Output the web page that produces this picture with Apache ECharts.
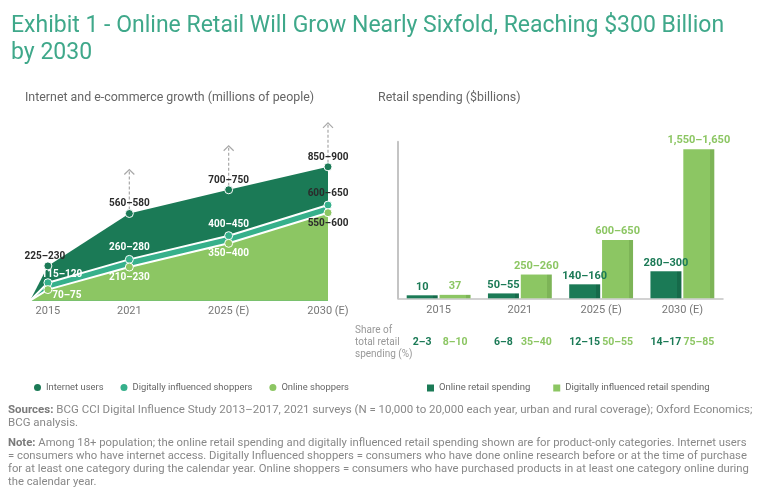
<!DOCTYPE html>
<html>
<head>
<meta charset="utf-8">
<script src="https://cdn.jsdelivr.net/npm/echarts@6/dist/echarts.min.js"></script>
<style>html,body{margin:0;padding:0;background:#fff}#chart{width:768px;height:500px}</style>
</head>
<body>
<div id="chart"></div>
<script>
var years = ['2015', '2021', '2025 (E)', '2030 (E)'];
// left panel: where each year sits on the x axis (gaps are uneven in the original)
var yearPos = [0.18, 1, 2, 3];
var internetUsers = [227.5, 570, 725, 875];
var digitalShoppers = [117.5, 270, 425, 625];
var onlineShoppers = [72.5, 220, 375, 575];
var internetLabels = ['225–230', '560–580', '700–750', '850–900'];
var digitalLabels = ['115–120', '260–280', '400–450', '600–650'];
var onlineLabels = ['70–75', '210–230', '350–400', '550–600'];
var arrowYears = [1, 2, 3];

var onlineSpend = [10, 52.5, 150, 290];
var digitalSpend = [37, 255, 625, 1600];
var onlineSpendLabels = ['10', '50–55', '140–160', '280–300'];
var digitalSpendLabels = ['37', '250–260', '600–650', '1,550–1,650'];
var onlineShare = ['2–3', '6–8', '12–15', '14–17'];
var digitalShare = ['8–10', '35–40', '50–55', '75–85'];

var DARK = '#1b7a56', DARK2 = '#166a4a', TEAL = '#36b08b', LIGHT = '#8cc663', LIGHT2 = '#7db457';
var FONT = 'Roboto';
var TEXT = '#2b2b2b', GREY = '#777';

var myChart = echarts.init(document.getElementById('chart'));

function stripe(c, d) {
    return new echarts.graphic.LinearGradient(0, 0, 1, 0, [
        {offset: 0, color: c}, {offset: 0.86, color: c},
        {offset: 0.86, color: d}, {offset: 1, color: d}
    ]);
}

function areaSeries(name, vals, labels, color, lineColor, lbl) {
    var data = [{value: [0, 0], symbol: 'none', label: {show: false}}];
    vals.forEach(function (v, i) {
        var l = {formatter: labels[i]};
        if (lbl.first && i == 0) l.offset = lbl.first;
        if (lbl.lastColor && i == vals.length - 1) l.color = lbl.lastColor;
        data.push({value: [yearPos[i], v], label: l});
    });
    return {
        type: 'line', name: name, xAxisIndex: 0, yAxisIndex: 0,
        data: data, symbol: 'circle', symbolSize: 8, showAllSymbol: true,
        itemStyle: {color: color, borderColor: '#fff', borderWidth: 1},
        lineStyle: {color: lineColor, width: lineColor == '#fff' ? 2 : 0},
        areaStyle: {color: color, opacity: 1},
        label: {
            show: true, position: lbl.pos, distance: lbl.dist, color: lbl.color,
            fontFamily: FONT, fontSize: 10, fontWeight: 'bold'
        },
        emphasis: {disabled: true}
    };
}

var option = {
    animation: false,
    title: {
        text: 'Exhibit 1 - Online Retail Will Grow Nearly Sixfold, Reaching $300 Billion\nby 2030',
        left: 6, top: 8,
        textStyle: {
            color: '#3fa88a', fontSize: 23, fontWeight: 'normal', lineHeight: 27,
            fontFamily: FONT
        }
    },
    legend: [{
        left: 29, top: 378, icon: 'circle', itemWidth: 7, itemHeight: 7, itemGap: 17,
        textStyle: {color: '#666', fontSize: 9.4, fontFamily: FONT},
        itemStyle: {borderWidth: 0},
        data: [
            {name: 'Internet users', itemStyle: {color: DARK}},
            {name: 'Digitally influenced shoppers', itemStyle: {color: TEAL}},
            {name: 'Online shoppers', itemStyle: {color: LIGHT}}
        ]
    }, {
        left: 422, top: 378, icon: 'rect', itemWidth: 7, itemHeight: 7, itemGap: 23,
        textStyle: {color: '#666', fontSize: 9.5, fontFamily: FONT},
        data: [
            {name: 'Online retail spending', itemStyle: {color: DARK}},
            {name: 'Digitally influenced retail spending', itemStyle: {color: LIGHT}}
        ]
    }],
    grid: [
        {left: 30, width: 298, top: 147.7, bottom: 199.3},
        {left: 398, width: 325, top: 141.7, bottom: 201.7}
    ],
    xAxis: [{
        gridIndex: 0, type: 'value', min: 0, max: 3,
        splitLine: {show: false}, axisLine: {show: false}, axisTick: {show: false},
        axisLabel: {
            customValues: yearPos, color: GREY, fontSize: 11, fontFamily: FONT, margin: 5,
            formatter: function (v) {
                var i = yearPos.indexOf(v);
                return i < 0 ? '' : years[i];
            }
        }
    }, {
        gridIndex: 1, type: 'category', data: years,
        axisLine: {lineStyle: {color: '#c4c4c4', width: 1.5}}, axisTick: {show: false},
        axisLabel: {color: GREY, fontSize: 11, fontFamily: FONT, margin: 6}
    }, {
        gridIndex: 1, type: 'category', data: years, position: 'bottom', offset: 33,
        axisLine: {show: false}, axisTick: {show: false},
        axisLabel: {
            margin: 6, interval: 0,
            formatter: function (v, i) {
                return '{a|' + onlineShare[i] + '}{b|' + digitalShare[i] + '}';
            },
            rich: {
                a: {width: 33, align: 'center', color: DARK, fontWeight: 'bold', fontSize: 10.5, fontFamily: FONT},
                b: {width: 33, align: 'center', color: LIGHT, fontWeight: 'bold', fontSize: 10.5, fontFamily: FONT}
            }
        }
    }],
    yAxis: [{
        gridIndex: 0, type: 'value', min: 0, max: 1000, show: false
    }, {
        gridIndex: 1, type: 'value', min: 0, max: 1680,
        splitLine: {show: false}, axisLabel: {show: false}, axisTick: {show: false},
        axisLine: {show: true, lineStyle: {color: '#c4c4c4', width: 2}}
    }],
    series: [
        areaSeries('Internet users', internetUsers, internetLabels, DARK, DARK,
            {pos: 'top', dist: 0, color: TEXT, first: [-3, 0]}),
        areaSeries('Digitally influenced shoppers', digitalShoppers, digitalLabels, TEAL, '#fff',
            {pos: 'top', dist: 2, color: '#fff', first: [14, 3], lastColor: TEXT}),
        areaSeries('Online shoppers', onlineShoppers, onlineLabels, LIGHT, '#fff',
            {pos: 'bottom', dist: 1, color: '#fff', first: [19, -5], lastColor: TEXT}),
        {
            type: 'custom', xAxisIndex: 0, yAxisIndex: 0, z: 3,
            data: arrowYears.map(function (i) { return [yearPos[i], internetUsers[i]]; }),
            renderItem: function (params, api) {
                var p = api.coord([api.value(0), api.value(1)]);
                var top = p[1] - 44;
                var st = {stroke: '#a8a8a8', lineWidth: 1.2, fill: null};
                return {type: 'group', children: [
                    {type: 'line', shape: {x1: p[0], y1: p[1] - 4, x2: p[0], y2: top},
                        style: {stroke: '#a8a8a8', lineWidth: 1.2, lineDash: [3, 2]}},
                    {type: 'polyline', shape: {points: [[p[0] - 5, top + 5], [p[0], top], [p[0] + 5, top + 5]]}, style: st}
                ]};
            }
        },
        {
            type: 'bar', name: 'Online retail spending', xAxisIndex: 1, yAxisIndex: 1,
            data: onlineSpend, barWidth: 31, barGap: '6%', barMinHeight: 3,
            itemStyle: {color: stripe(DARK, DARK2)},
            label: {show: true, position: 'top', distance: 3, color: DARK, fontWeight: 'bold', fontSize: 11,
                fontFamily: FONT, formatter: function (p) { return onlineSpendLabels[p.dataIndex]; }}
        },
        {
            type: 'bar', name: 'Digitally influenced retail spending', xAxisIndex: 1, yAxisIndex: 1,
            data: digitalSpend, barWidth: 31, barMinHeight: 3,
            itemStyle: {color: stripe(LIGHT, LIGHT2)},
            label: {show: true, position: 'top', distance: 3, color: LIGHT, fontWeight: 'bold', fontSize: 11,
                fontFamily: FONT, formatter: function (p) { return digitalSpendLabels[p.dataIndex]; }}
        }
    ],
    graphic: [
        {type: 'text', left: 25, top: 92, style: {text: 'Internet and e-commerce growth (millions of people)',
            fill: '#666', font: '12.4px ' + FONT}},
        {type: 'text', left: 378, top: 92, style: {text: 'Retail spending ($billions)',
            fill: '#666', font: '12.4px ' + FONT}},
        {type: 'text', left: 355, top: 325, style: {text: 'Share of\ntotal retail\nspending (%)',
            fill: '#999', font: '10px ' + FONT, lineHeight: 11.8}},
        {type: 'text', left: 8, top: 404, style: {
            text: '{b|Sources:}{n| BCG CCI Digital Influence Study 2013–2017, 2021 surveys (N = 10,000 to 20,000 each year, urban and rural coverage); Oxford Economics;}\n{n|BCG analysis.}',
            rich: {b: {fontFamily: FONT, fontSize: 11.5, fontWeight: 'bold', fill: '#7a7a7a', lineHeight: 13},
                n: {fontFamily: FONT, fontSize: 11.5, fill: '#888', lineHeight: 13}}
        }},
        {type: 'text', left: 8, top: 438, style: {
            text: '{b|Note:}{n| Among 18+ population; the online retail spending and digitally influenced retail spending shown are for product-only categories. Internet users}\n' +
                '{n|= consumers who have internet access. Digitally Influenced shoppers = consumers who have done online research before or at the time of purchase}\n' +
                '{n|for at least one category during the calendar year. Online shoppers = consumers who have purchased products in at least one category online during}\n' +
                '{n|the calendar year.}',
            rich: {b: {fontFamily: FONT, fontSize: 11.3, fontWeight: 'bold', fill: '#7a7a7a', lineHeight: 12.9},
                n: {fontFamily: FONT, fontSize: 11.3, fill: '#888', lineHeight: 12.9}}
        }}
    ]
};
myChart.setOption(option);
</script>
</body>
</html>
